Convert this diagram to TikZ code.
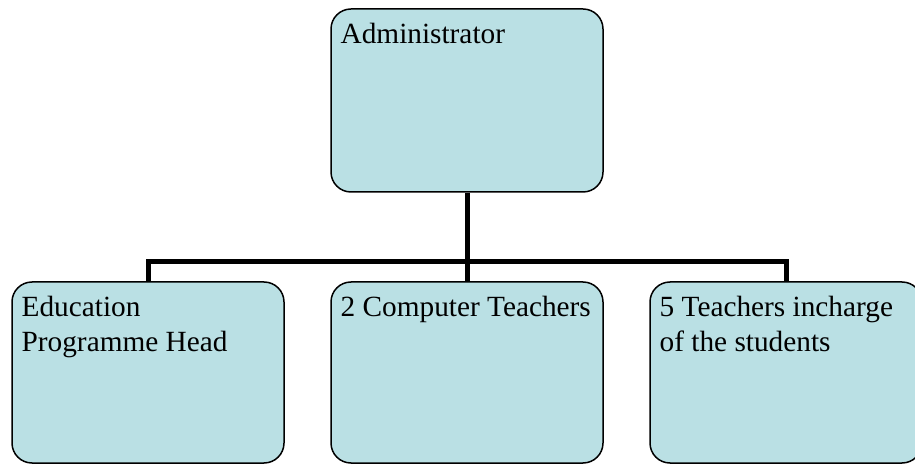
\documentclass[tikz,border=0pt]{standalone}
\usepackage{fontspec}
\setmainfont{Liberation Serif}
\definecolor{boxfill}{RGB}{186,224,228}

\tikzstyle{orgbox}=[
    draw,
    fill=boxfill,
    line width=0.75pt,
    rounded corners=10pt,
    minimum width=136pt,
    minimum height=90.5pt,
    inner sep=0pt,
  ]
\tikzstyle{orgtext}=[
    anchor=north west,
    align=left,
    inner sep=0pt,
    font=\fontsize{14.65pt}{17.5pt}\selectfont,
  ]
\tikzstyle{link}=[
    line width=2.5pt,
  ]

\begin{document}
\begin{tikzpicture}[x=0.5pt, y=-0.5pt]
      \clip (0,0) rectangle (915,464);
      \node[orgbox, minimum height=91.5pt] (adm) at (467, 100.5) {};
      \foreach \name/\x in {edu/148, cmp/467, stu/786} {%
        \node[orgbox] (\name) at (\x, 372.5) {};
      }
      \coordinate (bus) at (467, 262);
      \draw[link] (adm.south) -- (bus);
      \draw[link] (edu.north) |- (bus);
      \draw[link] (cmp.north) -- (bus);
      \draw[link] (stu.north) |- (bus);
      \node[orgtext] (admtxt) at ([shift={(5pt,-7.4pt)}]adm.north west) {Administrator};
      \node[orgtext] (edutxt) at ([shift={(5pt,-7.4pt)}]edu.north west) {Education\\Programme Head};
      \node[orgtext] (cmptxt) at ([shift={(5pt,-7.4pt)}]cmp.north west) {2 Computer Teachers};
      \node[orgtext] (stutxt) at ([shift={(5pt,-7.4pt)}]stu.north west) {5 Teachers incharge\\of the students};
    \end{tikzpicture}
\end{document}
